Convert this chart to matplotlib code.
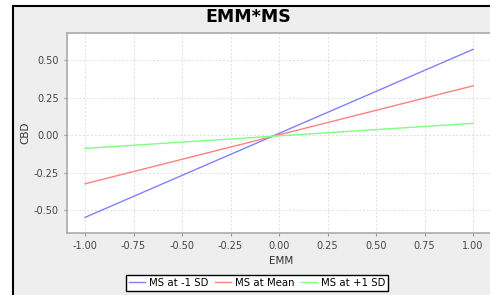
import matplotlib
matplotlib.use("Agg")
import matplotlib.pyplot as plt
from matplotlib.patches import Rectangle
import numpy as np

# simple slopes of CBD on EMM at three levels of MS
emm = [-1.0, 1.0]
ms_low = [-0.549, 0.571]
ms_mean = [-0.325, 0.328]
ms_high = [-0.089, 0.078]
series_labels = ["MS at -1 SD", "MS at Mean", "MS at +1 SD"]
series_colors = ["#8080ff", "#ff8080", "#80ff80"]

xticks = [-1.0, -0.75, -0.5, -0.25, 0.0, 0.25, 0.5, 0.75, 1.0]
yticks = [-0.5, -0.25, 0.0, 0.25, 0.5]

W, H = 490, 295
fig = plt.figure(figsize=(W / 100, H / 100), dpi=100, facecolor="white")

# panel background with black border (cropped at right / bottom)
fig.patches.append(Rectangle((13 / W, -0.2), 1.2, (H - 6) / H + 0.2,
                             transform=fig.transFigure, facecolor="#eeeeee",
                             edgecolor="black", linewidth=1.5, zorder=-10))

# plot area runs a little past the right edge of the picture
ax = fig.add_axes([67 / W, (H - 233) / H, (495 - 67) / W, (233 - 33) / H])
ax.set_facecolor("white")

for ys, lab, col in zip([ms_low, ms_mean, ms_high], series_labels, series_colors):
    ax.plot(emm, ys, color=col, lw=1.0, label=lab)

ax.set_xlim(-1.093, 1.113)
ax.set_ylim(-0.653, 0.68)
ax.set_xticks(xticks)
ax.set_yticks(yticks)
ax.set_xticklabels([f"{t:.2f}" for t in xticks])
ax.set_yticklabels([f"{t:.2f}" for t in yticks])
ax.tick_params(labelsize=7, colors="#999999", labelcolor="#444444", length=2, width=0.8, pad=4)
ax.grid(True, color="#dddddd", linestyle=(0, (2, 2)), linewidth=0.7)
ax.set_axisbelow(True)
for side in ["left", "bottom", "top"]:
    ax.spines[side].set_color("#aaaaaa")
    ax.spines[side].set_linewidth(1.2)
ax.spines["right"].set_visible(False)

ax.set_xlabel("EMM", fontsize=7.5, color="#333333", labelpad=3)
ax.set_ylabel("CBD", fontsize=7.5, color="#333333", labelpad=2)
fig.text(248 / W, (H - 17) / H, "EMM*MS", ha="center", va="center",
         fontsize=12.5, fontweight="bold")

leg = fig.legend(loc="upper left", bbox_to_anchor=(126 / W, (H - 275) / H),
                 ncol=3, fontsize=7.3, frameon=True, fancybox=False,
                 edgecolor="black", framealpha=1, handlelength=1.6,
                 handletextpad=0.4, columnspacing=0.6, borderpad=0.3,
                 borderaxespad=0)
leg.get_frame().set_linewidth(1.0)

fig.savefig("out.png", dpi=100)
